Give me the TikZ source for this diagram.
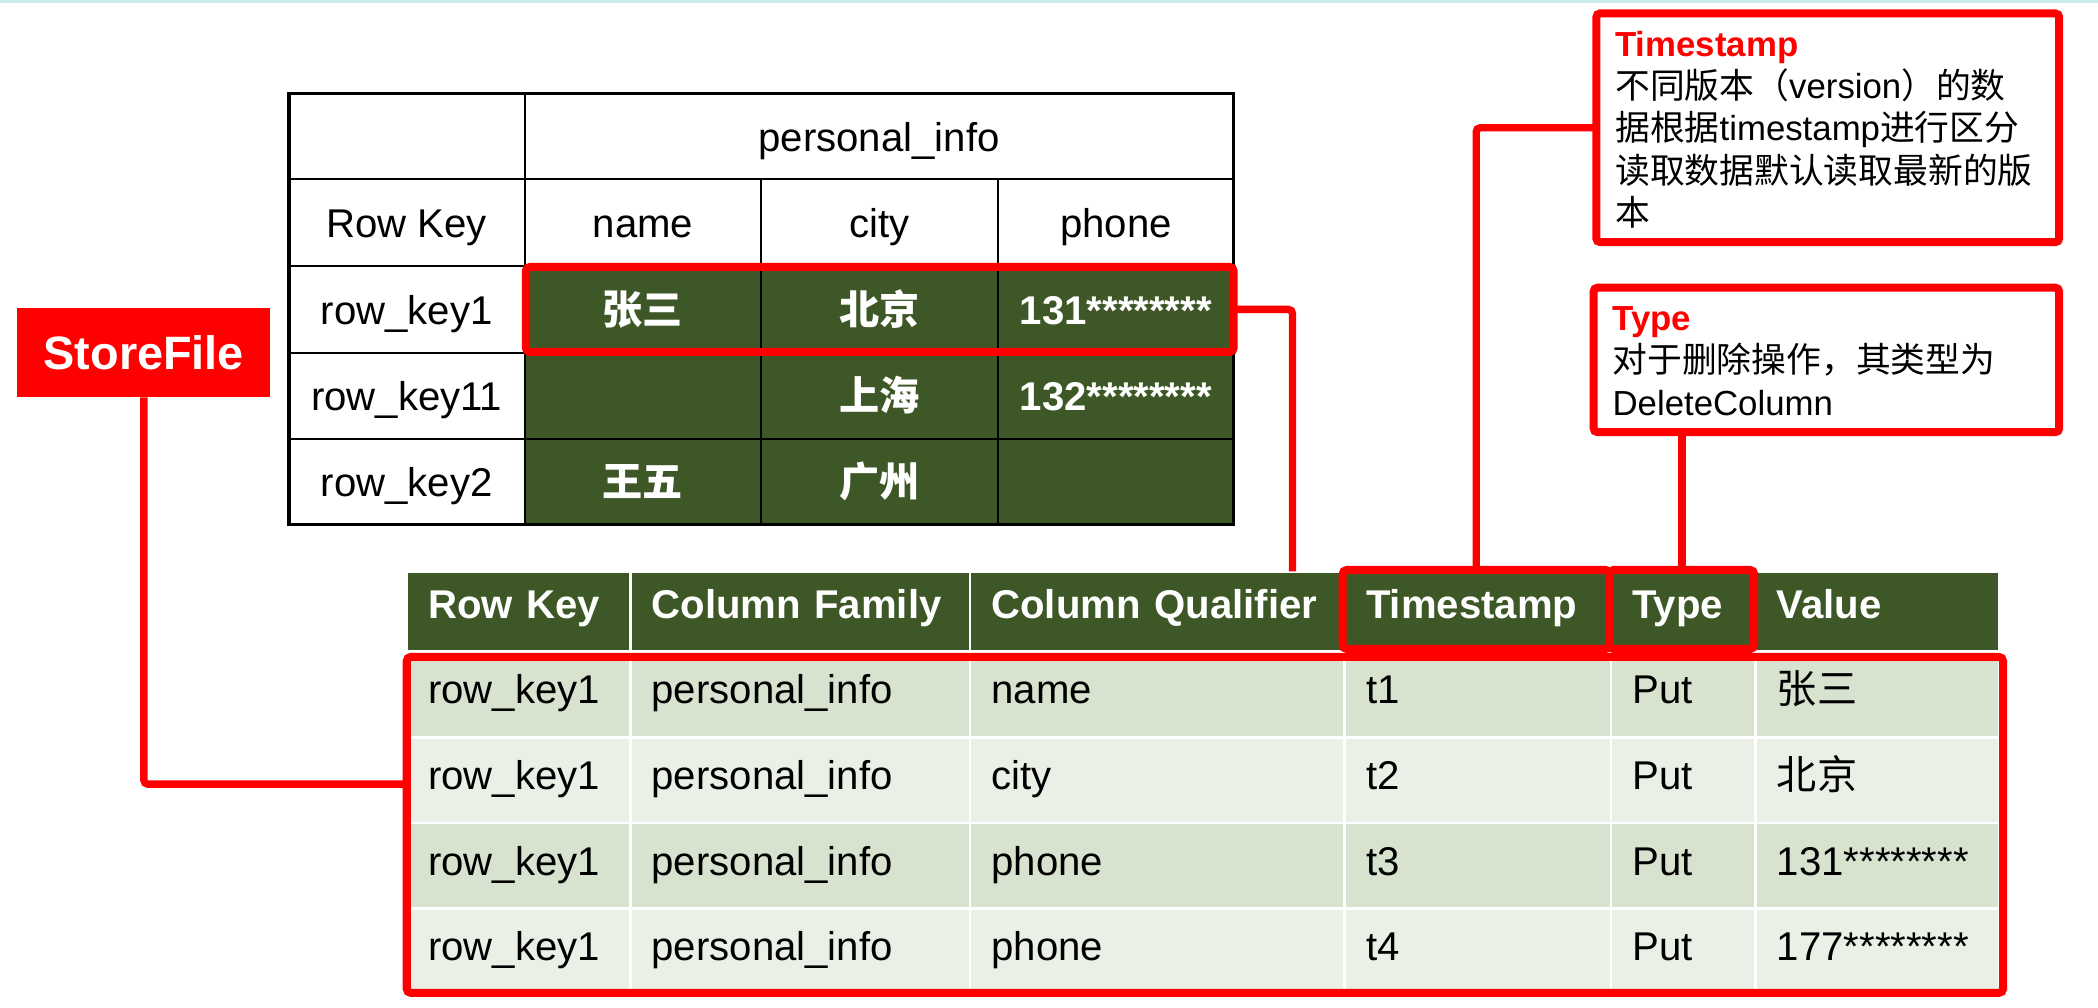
\documentclass[tikz,border=0pt]{standalone}
\usepackage{fontspec}
\setmainfont{Liberation Sans}
\newfontfamily\cjk{Noto Sans CJK SC}
\usetikzlibrary{calc}
\definecolor{dkgreen}{RGB}{61,87,38}
\definecolor{lgA}{RGB}{215,227,207}
\definecolor{lgB}{RGB}{234,240,230}
\definecolor{hlred}{RGB}{255,0,0}
\definecolor{topline}{RGB}{200,236,240}
\newcommand\myfontA{\fontsize{30}{36}\selectfont}
\newcommand\myfontB{\fontsize{26}{31.6}\selectfont}
\begin{document}
\begin{tikzpicture}[x=1pt,y=-1pt,
  topcell/.style={draw=black, line width=1.5pt, inner sep=0pt, outer sep=0pt, anchor=north west, font=\myfontA, text height=22pt, text depth=0pt},
  topgreen/.style={topcell, fill=dkgreen, text=white, font=\myfontA\bfseries},
  bcell/.style={draw=white, line width=2pt, inner xsep=16pt, inner ysep=0pt, outer sep=0pt, anchor=north west, font=\myfontA, text height=21pt, text depth=7pt, align=left, minimum height=64pt},
  bhead/.style={bcell, fill=dkgreen, text=white, font=\myfontA\bfseries, text height=20pt, text depth=9pt, minimum height=60pt},
  rowA/.style={bcell, fill=lgA},
  rowB/.style={bcell, fill=lgB},
  redbox/.style={draw=hlred, line width=6pt, rounded corners=3pt, inner sep=0pt, outer sep=0pt, anchor=north west},
  callout/.style={redbox, fill=white},
  link/.style={draw=hlred, line width=5.5pt, rounded corners=3pt},
  ctext/.style={anchor=north west, inner sep=0pt, font=\myfontB, text width=335pt, align=left}
]
\useasboundingbox[fill=white] (0,0) rectangle (1568,753);
\draw[topline, line width=2pt] (0,1) -- (1568,1);

% ---- top table ----
\node[topcell, minimum width=176pt, minimum height=64pt] (t0) at (216,70) {};
\node[topcell, minimum width=530pt, minimum height=64pt] (tpi) at (392,70) {personal\_info};
\node[topcell, minimum width=176pt, minimum height=65pt] (trk) at (216,134) {Row Key};
\node[topcell, minimum width=177pt, minimum height=65pt] (tname) at (392,134) {name};
\node[topcell, minimum width=177pt, minimum height=65pt] (tcity) at (569,134) {city};
\node[topcell, minimum width=176pt, minimum height=65pt] (tphone) at (746,134) {phone};

\node[topcell, minimum width=176pt, minimum height=65pt] (k1) at (216,199) {row\_key1};
\node[topgreen, minimum width=177pt, minimum height=65pt] (g11) at (392,199) {{\cjk 张三}};
\node[topgreen, minimum width=177pt, minimum height=65pt] (g12) at (569,199) {{\cjk 北京}};
\node[topgreen, minimum width=176pt, minimum height=65pt] (g13) at (746,199) {131********};

\node[topcell, minimum width=176pt, minimum height=64pt] (k2) at (216,264) {row\_key11};
\node[topgreen, minimum width=177pt, minimum height=64pt] (g21) at (392,264) {};
\node[topgreen, minimum width=177pt, minimum height=64pt] (g22) at (569,264) {{\cjk 上海}};
\node[topgreen, minimum width=176pt, minimum height=64pt] (g23) at (746,264) {132********};

\node[topcell, minimum width=176pt, minimum height=64pt] (k3) at (216,328) {row\_key2};
\node[topgreen, minimum width=177pt, minimum height=64pt] (g31) at (392,328) {{\cjk 王五}};
\node[topgreen, minimum width=177pt, minimum height=64pt] (g32) at (569,328) {{\cjk 广州}};
\node[topgreen, minimum width=176pt, minimum height=64pt] (g33) at (746,328) {};
\draw[line width=2.5pt] (t0.north west) rectangle (g33.south east);

% ---- bottom table ----
\node[bhead, text width=135pt] (h1) at (304,427) {Row Key};
\node[bhead, text width=222pt] (h2) at (471,427) {Column Family};
\node[bhead, text width=248pt] (h3) at (725,427) {Column Qualifier};
\node[bhead, text width=167pt] (h4) at (1005,427) {Timestamp};
\node[bhead, text width=76pt]  (h5) at (1204,427) {Type};
\node[bhead, text width=150pt] (h6) at (1312,427) {Value};

\node[rowA, text width=135pt] (a1) at (304,487) {row\_key1};
\node[rowA, text width=222pt] (a2) at (471,487) {personal\_info};
\node[rowA, text width=248pt] (a3) at (725,487) {name};
\node[rowA, text width=167pt] (a4) at (1005,487) {t1};
\node[rowA, text width=76pt]  (a5) at (1204,487) {Put};
\node[rowA, text width=150pt] (a6) at (1312,487) {{\cjk 张三}};

\node[rowB, text width=135pt] (b1) at (304,551) {row\_key1};
\node[rowB, text width=222pt] (b2) at (471,551) {personal\_info};
\node[rowB, text width=248pt] (b3) at (725,551) {city};
\node[rowB, text width=167pt] (b4) at (1005,551) {t2};
\node[rowB, text width=76pt]  (b5) at (1204,551) {Put};
\node[rowB, text width=150pt] (b6) at (1312,551) {{\cjk 北京}};

\node[rowA, text width=135pt] (c1n) at (304,615) {row\_key1};
\node[rowA, text width=222pt] (c2n) at (471,615) {personal\_info};
\node[rowA, text width=248pt] (c3n) at (725,615) {phone};
\node[rowA, text width=167pt] (c4n) at (1005,615) {t3};
\node[rowA, text width=76pt]  (c5n) at (1204,615) {Put};
\node[rowA, text width=150pt] (c6n) at (1312,615) {131********};

\node[rowB, text width=135pt] (d1) at (304,679) {row\_key1};
\node[rowB, text width=222pt] (d2) at (471,679) {personal\_info};
\node[rowB, text width=248pt] (d3) at (725,679) {phone};
\node[rowB, text width=167pt] (d4) at (1005,679) {t4};
\node[rowB, text width=76pt]  (d5) at (1204,679) {Put};
\node[rowB, text width=150pt] (d6) at (1312,679) {177********};

% ---- red highlights and callouts ----
\node[redbox, minimum width=529pt, minimum height=63.5pt] (rowhl) at (393,199.5) {};
\node[redbox, minimum width=1193pt, minimum height=251pt] (datahl) at (304,491) {};
\node[redbox, minimum width=199.5pt, minimum height=59pt] (tshd) at (1003.5,426) {};
\node[redbox, minimum width=108pt, minimum height=59pt] (typehd) at (1203,426) {};
\node[callout, minimum width=346pt, minimum height=171pt] (tsbox) at (1193,10) {};
\node[callout, minimum width=348pt, minimum height=108pt] (typebox) at (1191,215) {};
\node[fill=hlred, minimum width=189pt, minimum height=67pt, inner sep=0pt, outer sep=0pt, anchor=north west, text=white, font=\fontsize{35}{42}\selectfont\bfseries] (sf) at (13,230) {StoreFile};

\node[ctext] (tstext) at (1207,23) {\textcolor{hlred}{\bfseries Timestamp}\\{\cjk 不同版本（}version{\cjk ）的数}\\{\cjk 据根据}timestamp{\cjk 进行区分}\\{\cjk 读取数据默认读取最新的版}\\{\cjk 本}};
\node[ctext] (typetext) at (1205,229) {\textcolor{hlred}{\bfseries Type}\\{\cjk 对于删除操作，其类型为}\\DeleteColumn};

% ---- connectors ----
\coordinate (e1) at (966,427);
\coordinate (e2) at (304,586);
\draw[link] (rowhl.east) -| (e1);
\draw[link] (sf.south) |- (e2);
\draw[link] (tsbox.west) -| (tshd.north);
\draw[link] (typebox.south -| typehd.north) -- (typehd.north);
\end{tikzpicture}
\end{document}
